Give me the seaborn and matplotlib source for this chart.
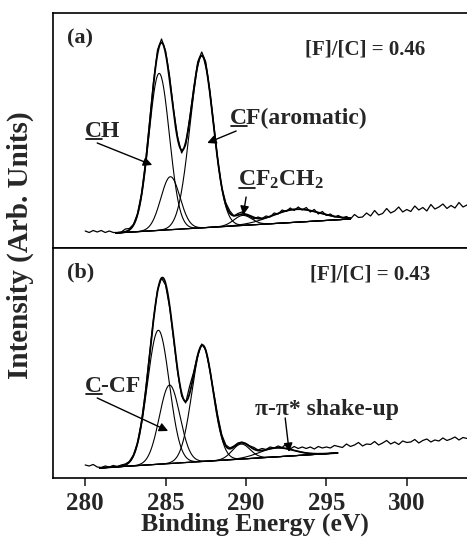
import numpy as np
import pandas as pd
import matplotlib
matplotlib.use('Agg')
import matplotlib.pyplot as plt
import seaborn as sns
from matplotlib.lines import Line2D

sns.set_style('ticks')
plt.rcParams['font.family'] = ['Liberation Serif', 'DejaVu Serif']
plt.rcParams['font.weight'] = 'bold'
plt.rcParams['mathtext.fontset'] = 'custom'
plt.rcParams['mathtext.rm'] = 'Liberation Serif:bold'
plt.rcParams['mathtext.default'] = 'rm'

# binding energy grid of the measured spectra (eV)
ENERGY = np.arange(280.0, 304.01, 0.25)

RAW_A = [17, 15.5, 17.5, 16, 17.5, 15.5, 17, 15.5, 15.5, 16,
         19, 19.5, 23.5, 34, 54, 85, 125, 166, 198, 209,
         197, 172, 138, 111, 95, 103, 129, 160, 186, 196,
         186, 158, 123, 88, 60, 45, 37, 32, 34.5, 36,
         33, 31.5, 29, 31, 29.5, 32, 31, 35, 34, 38,
         36.5, 40, 37.5, 41, 38, 40.5, 36, 38.5, 34, 36.5,
         32.5, 34, 31, 32.5,
         30, 31.5, 29, 33.5, 30.5, 31, 35, 32, 37.5, 33,
         34.5, 39.5, 35, 37, 41, 36, 38.5, 36.5, 42, 38,
         40.5, 37, 43.5, 39, 41, 44, 39.5, 42.5, 40, 45.5,
         41, 43, 46]
RAW_B = [13, 12, 13.5, 11, 10.5, 12, 11, 12.5, 11.5, 13,
         14, 16.5, 23, 35, 56, 86, 123, 159, 188, 200,
         193, 171, 139, 106, 82, 75, 92, 106, 123, 134,
         128, 108, 85, 62, 43, 33, 30, 32, 35, 36,
         34.5, 32, 30.5, 28, 29.5, 28.5, 31, 30, 32, 30.5,
         34, 29, 31.5, 29.5, 31, 29.5, 31, 29, 31.5, 30,
         31, 30, 32.5, 31.5, 30.5, 34, 31.5, 33, 35.5, 32,
         34, 33.5, 36.5, 33, 35, 37.5, 34, 36, 33.5, 37,
         35.5, 36, 38.5, 35, 37.5, 39, 36, 38, 37, 40,
         37.5, 39, 41, 38, 40.5, 39.5, 41]

# fitted components: CH, C-CF, CF(aromatic), CF2CH2, shake-up
CENTER_A = [284.6, 285.3, 287.25, 289.8, 293.1]
HEIGHT_A = [157, 53, 172, 10, 13]
FWHM_A = [1.5, 1.4, 1.7, 1.3, 3.5]
BG_E_A = [281.9, 296.5]
BG_I_A = [15, 29]

CENTER_B = [284.55, 285.25, 287.3, 289.7, 291.9]
HEIGHT_B = [134, 78.5, 116, 15, 9]
FWHM_B = [1.6, 1.5, 1.55, 1.3, 2.5]
BG_E_B = [280.9, 295.7]
BG_I_B = [10, 25]

RATIO_A = '[F]/[C] = 0.46'
RATIO_B = '[F]/[C] = 0.43'
XTICKS = [280, 285, 290, 295, 300]


def gauss(e, c, h, w):
    return h * np.exp(-4 * np.log(2) * ((e - c) / w) ** 2)


def draw_panel(ax, raw, centers, heights, fwhms, bg_e, bg_i):
    sns.lineplot(x=ENERGY, y=raw, ax=ax, color='black', lw=0.9,
                 estimator=None, sort=False)
    grid = np.linspace(bg_e[0], bg_e[1], 400)
    bg = np.interp(grid, bg_e, bg_i)
    sns.lineplot(x=grid, y=bg, ax=ax, color='black', lw=0.9, estimator=None, sort=False)
    total = bg.copy()
    for c, h, w in zip(centers, heights, fwhms):
        comp = gauss(grid, c, h, w)
        total += comp
        sns.lineplot(x=grid, y=bg + comp, ax=ax, color='black', lw=0.8,
                     estimator=None, sort=False)
    sns.lineplot(x=grid, y=total, ax=ax, color='black', lw=1.3,
                 estimator=None, sort=False)


def arrow(ax, start, end):
    ax.annotate('', xy=end, xytext=start,
                arrowprops=dict(arrowstyle='-|>', color='black', lw=1.0,
                                mutation_scale=13, shrinkA=0, shrinkB=0))


fig = plt.figure(figsize=(4.67, 5.39), dpi=100)
ax_a = fig.add_axes([0.1135, 0.5399, 0.8952, 0.436])
ax_b = fig.add_axes([0.1135, 0.1132, 0.8952, 0.4267])

draw_panel(ax_a, RAW_A, CENTER_A, HEIGHT_A, FWHM_A, BG_E_A, BG_I_A)
draw_panel(ax_b, RAW_B, CENTER_B, HEIGHT_B, FWHM_B, BG_E_B, BG_I_B)

for ax, top in [(ax_a, 235), (ax_b, 230)]:
    ax.set_xlim(278, 304)
    ax.set_ylim(0, top)
    ax.set_yticks([])
    ax.set_xlabel('')
    ax.set_ylabel('')
    for s in ax.spines.values():
        s.set_linewidth(1.2)
        s.set_color('black')

ax_a.tick_params(bottom=False, labelbottom=False)
ax_b.set_xticks(XTICKS)
ax_b.tick_params(axis='x', direction='out', length=6, width=1.2, pad=4, labelsize=18)

ANN = dict(fontsize=17, fontweight='bold', va='baseline', ha='left')
underlined = []

ax_a.text(278.88, 205, '(a)', fontsize=16, fontweight='bold', va='baseline')
ax_a.text(293.68, 193, RATIO_A, fontsize=15, fontweight='bold', va='baseline')
for x, y, s in [(280.0, 111, 'CH'), (289.02, 124, 'CF(aromatic)'),
                (289.51, 62, 'CF$_2$CH$_2$')]:
    ax_a.text(x, y, s, **ANN)
    underlined.append((ax_a, x, y))
arrow(ax_a, (280.75, 105), (284.17, 83))
arrow(ax_a, (289.39, 117), (287.59, 105))
arrow(ax_a, (290.01, 51), (289.83, 33))

ax_b.text(278.88, 201, '(b)', fontsize=16, fontweight='bold', va='baseline')
ax_b.text(293.99, 198, RATIO_B, fontsize=15, fontweight='bold', va='baseline')
ax_b.text(280.0, 86, 'C-CF', **ANN)
underlined.append((ax_b, 280.0, 86))
ax_b.text(290.57, 63, 'π-π* shake-up', **ANN)
arrow(ax_b, (280.75, 80), (285.16, 47))
arrow(ax_b, (292.44, 60), (292.69, 26))

fig.text(254.5 / 467, 1 - 531 / 539, 'Binding Energy (eV)', fontsize=18.5,
         fontweight='bold', ha='center', va='baseline')
fig.text(0.043, 0.5445, 'Intensity (Arb. Units)', fontsize=21,
         fontweight='bold', rotation=90, ha='center', va='center')

# underline the first letter of the peak labels
fig.canvas.draw()
renderer = fig.canvas.get_renderer()
inv = fig.transFigure.inverted()
for ax, x, y in underlined:
    probe = ax.text(x, y, 'C', **ANN)
    bb = probe.get_window_extent(renderer)
    probe.remove()
    base = ax.transData.transform((x, y))[1] - 2.5
    pts = inv.transform([[bb.x0 + 0.5, base], [bb.x1 - 0.5, base]])
    fig.add_artist(Line2D(pts[:, 0], pts[:, 1], color='black', lw=1.2))

fig.savefig('out.png', dpi=100)
